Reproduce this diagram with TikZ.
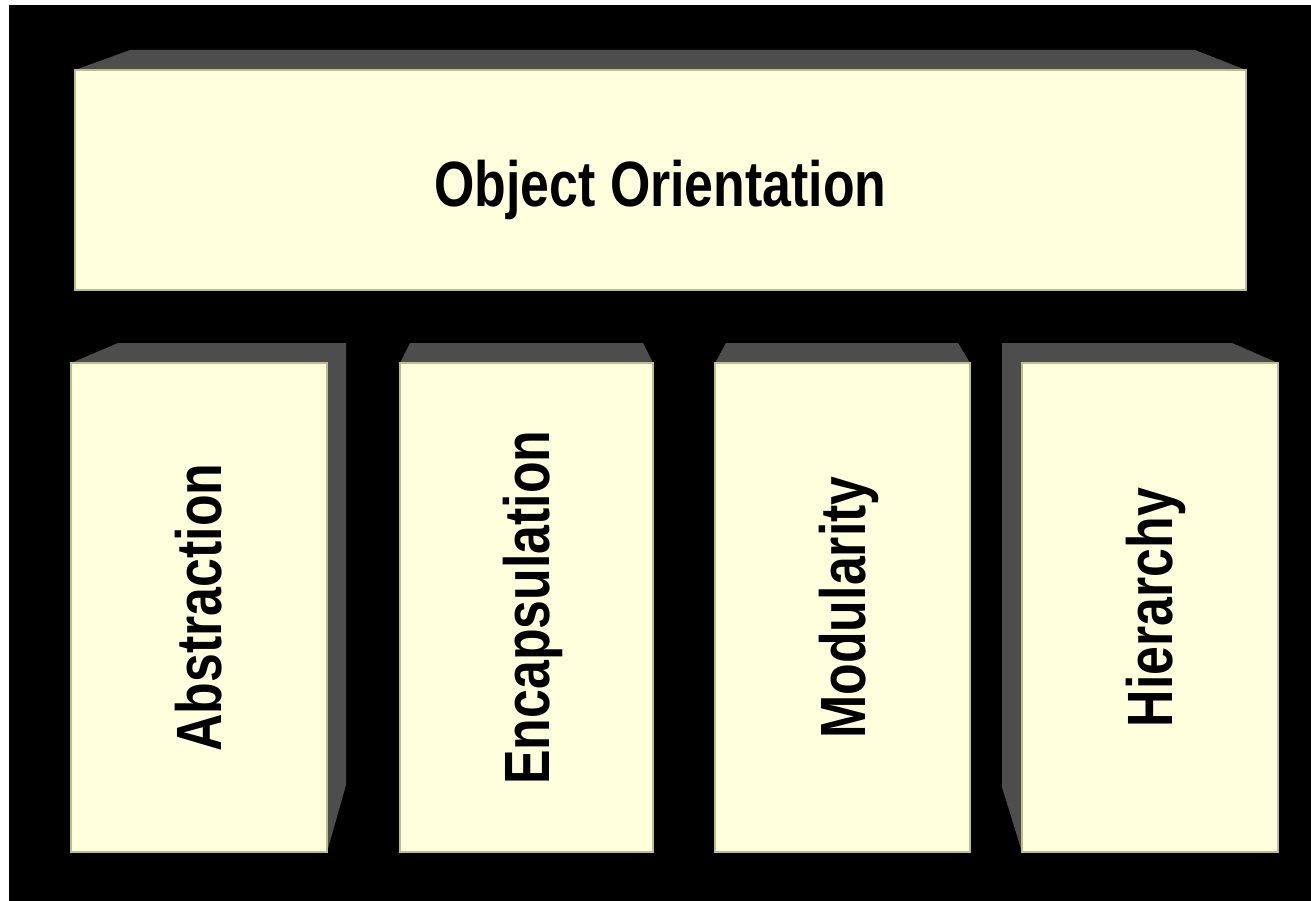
\documentclass[tikz,border=0pt]{standalone}
\usepackage{fontspec}
\newfontfamily\labelfont[FakeStretch=0.81]{Liberation Sans}
\definecolor{facecol}{RGB}{255,255,221}
\definecolor{edgecol}{RGB}{190,190,140}
\definecolor{bevelcol}{RGB}{77,77,77}
\tikzset{
  face/.style={draw=edgecol, line width=1.2pt, fill=facecol, inner sep=0pt},
  bevel/.style={fill=bevelcol},
  lbl/.style={inner sep=0pt, text height=45.8pt, text depth=0pt, text=black,
              font=\labelfont\bfseries\fontsize{64}{64}\selectfont},
}
\begin{document}
\begin{tikzpicture}[x=1pt,y=-1pt]
\useasboundingbox (0,0) rectangle (1311,901);
\fill[white] (0,0) rectangle (1311,901);
\fill[black] (9,5) rectangle (1311,901);
% bevels
\fill[bevel] (75,70) -- (130,50) -- (1195,50) -- (1246,70) -- cycle;
\fill[bevel] (71,363) -- (118,343) -- (346,343) -- (346,785) -- (327,852) -- (327,363) -- cycle;
\fill[bevel] (400,363) -- (410,343) -- (643,343) -- (653,363) -- cycle;
\fill[bevel] (715,363) -- (726,343) -- (958,343) -- (970,363) -- cycle;
\fill[bevel] (1278,363) -- (1232,343) -- (1002,343) -- (1002,787) -- (1022,852) -- (1022,363) -- cycle;
% faces
\node[face, minimum width=1171pt, minimum height=220pt] (oo) at (660.5,180) {};
\node[face, minimum width=256pt, minimum height=489pt] (abs) at (199,607.5) {};
\node[face, minimum width=253pt, minimum height=489pt] (enc) at (526.5,607.5) {};
\node[face, minimum width=255pt, minimum height=489pt] (mod) at (842.5,607.5) {};
\node[face, minimum width=256pt, minimum height=489pt] (hie) at (1150,607.5) {};
% labels
\node[lbl] (ootext) at ([yshift=-3.5pt]oo.center) {Object Orientation};
\node[lbl, rotate=90] (abstext) at (abs.center) {Abstraction};
\node[lbl, rotate=90] (enctext) at (enc.center) {Encapsulation};
\node[lbl, rotate=90] (modtext) at (mod.center) {Modularity};
\node[lbl, rotate=90] (hietext) at (hie.center) {Hierarchy};
\end{tikzpicture}
\end{document}
